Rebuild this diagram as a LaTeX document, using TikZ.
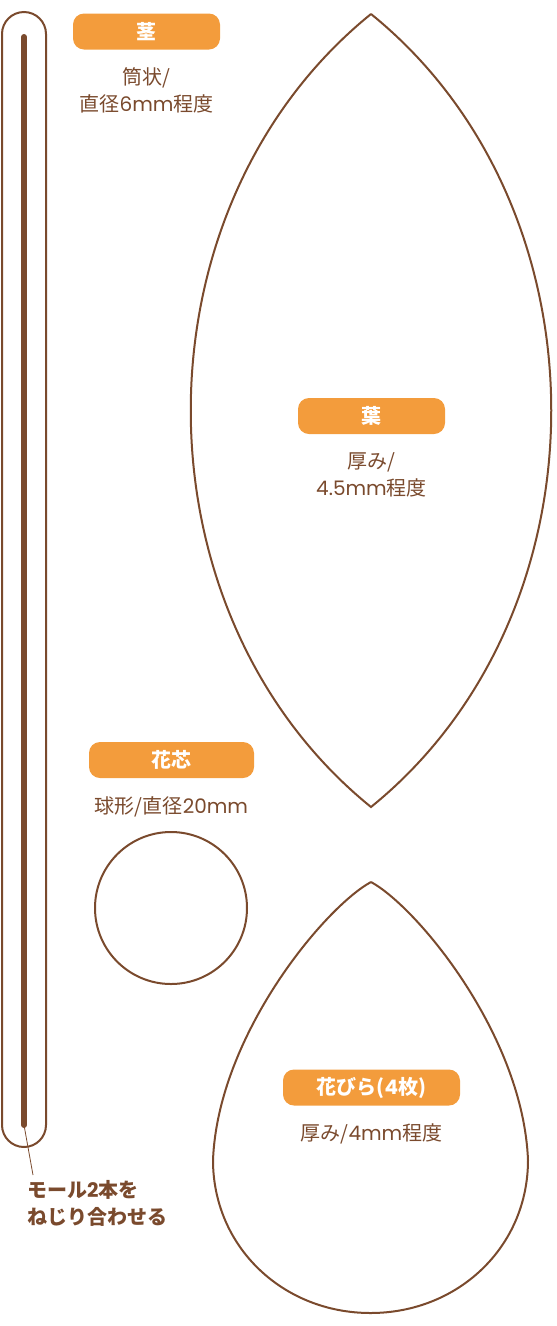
\documentclass[tikz,border=0pt]{standalone}
\usepackage{fontspec}
\setmainfont{Noto Sans CJK JP}
\newfontfamily\latn{Poppins}
\definecolor{partbrown}{RGB}{122,74,45}
\definecolor{tagorange}{RGB}{243,156,60}
\usetikzlibrary{positioning}
\newcommand{\lt}[1]{{\latn #1}}

\begin{document}
\begin{tikzpicture}[x=1pt, y=-1pt,
  tag/.style={fill=tagorange, rounded corners=11pt, minimum height=36pt, inner sep=0pt,
    text=white, font=\fontsize{20}{24}\selectfont\bfseries},
  note/.style={text=partbrown, align=center, inner sep=0pt, font=\fontsize{20}{27}\selectfont},
  outline/.style={draw=partbrown, line width=2pt}]
  \useasboundingbox (0,0) rectangle (557,1326);

  % Stem: two twisted pipe cleaners
  \draw[outline, rounded corners=22pt] (2,12) rectangle (46,1147);
  \coordinate (wiretop) at (24,37);
  \coordinate (wireend) at (24,1125);
  \draw[partbrown, line width=6pt, line cap=round] (wiretop) -- (wireend);
  \node[note, anchor=north west, align=left, font=\fontsize{20}{27}\selectfont\bfseries] (twistnote) at (27,1180) {モール\lt{2}本を\\ねじり合わせる};
  \coordinate (leadend) at (33,1175);
  \draw[partbrown, line width=0.8pt] (wireend) -- (leadend);

  \node[tag, minimum width=147pt] (stemtag) at (146.5,31.5) {茎};
  \node[note, below=18pt of stemtag] (stemnote) {筒状/\\直径\lt{6mm}程度};

  % Leaf
  \coordinate (leaftip) at (371,14);
  \coordinate (leafbase) at (371,807);
  \draw[outline] (leaftip) to[bend right=51] (leafbase) to[bend right=51] (leaftip);
  \node[tag, minimum width=147pt] (leaftag) at (371.5,416) {葉};
  \node[note, below=18pt of leaftag] (leafnote) {厚み/\\\lt{4.5mm}程度};

  % Flower core
  \node[tag, minimum width=165pt] (coretag) at (171.5,760) {花芯};
  \node[note, below=18pt of coretag] (corenote) {球形/直径\lt{20mm}};
  \node[outline, circle, minimum size=152pt] (core) at (171,908) {};

  % Petal
  \coordinate (petaltip) at (371,882);
  \draw[outline] (petaltip) .. controls (325,907) and (218,1035) .. (213,1160)
    .. controls (213,1247) and (283,1313) .. (370.5,1313)
    .. controls (458,1313) and (528,1247) .. (528,1160)
    .. controls (523,1035) and (417,907) .. (petaltip);
  \node[tag, minimum width=177pt] (petaltag) at (371.5,1087.5) {花びら(\lt{4}枚)};
  \node[note, below=18pt of petaltag] (petalnote) {厚み/\lt{4mm}程度};
\end{tikzpicture}
\end{document}
